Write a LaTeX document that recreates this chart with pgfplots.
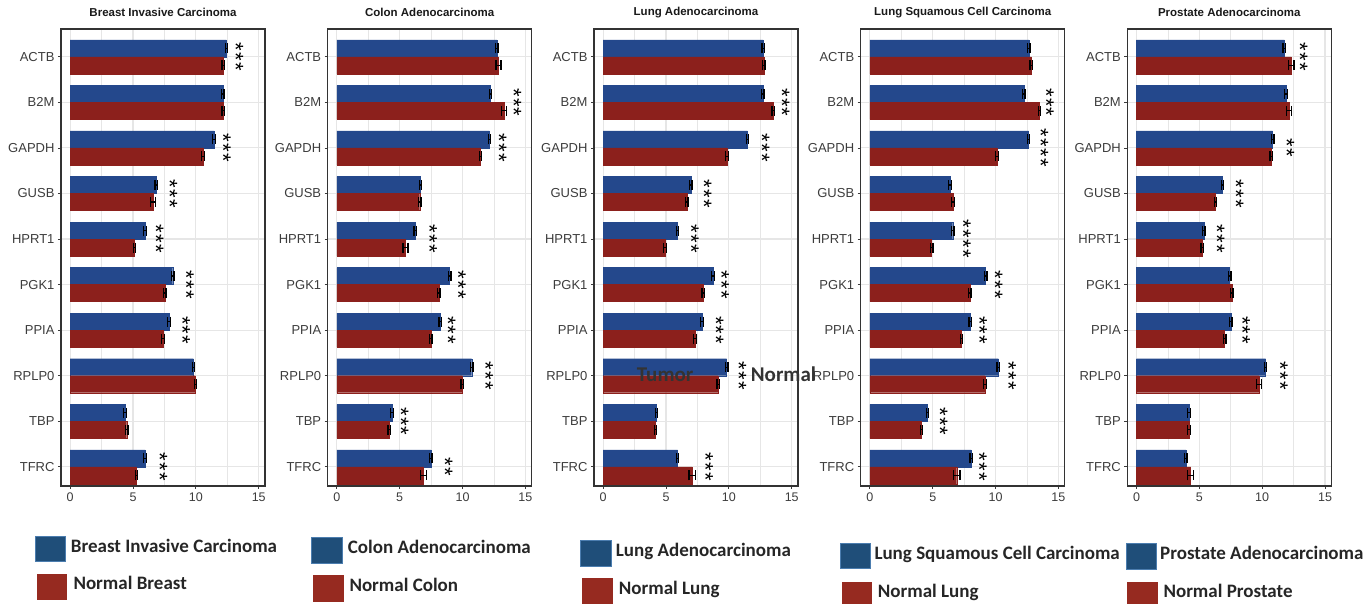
\documentclass[border=0pt]{standalone}
\usepackage{fontspec}
\setmainfont{Liberation Sans}
\newfontfamily\carlito{Carlito}
\usepackage{pgfplots}
\usepackage{pgfplotstable}
\pgfplotsset{compat=1.18}

\definecolor{tblue}{RGB}{36,72,140}
\definecolor{nred}{RGB}{140,32,28}
\definecolor{lblue}{RGB}{31,78,121}
\definecolor{lblueedge}{RGB}{75,125,175}
\definecolor{lred}{RGB}{150,42,32}
\definecolor{gridc}{RGB}{230,230,230}
\definecolor{axc}{RGB}{51,51,51}
\definecolor{tickc}{RGB}{60,60,60}

\newcommand\stwo{*\kern1.3pt*}
\newcommand\sthree{*\kern1.3pt*\kern1.3pt*}
\newcommand\sfour{*\kern1.3pt*\kern1.3pt*\kern1.3pt*}
% significance stars: one rotated line of asterisks, centred on (x, gene)
\newcommand\sig[3]{\node[sigstar] at ([xshift=-4.7pt]axis cs:#1,#2) {#3};}

% columns: y position (ACTB=9 ... TFRC=0), tumour value, error, normal value, error
\pgfplotstableread{
y tv te nv ne
9 12.43 0.1 12.17 0.1
8 12.14 0.1 12.19 0.1
7 11.45 0.1 10.57 0.1
6 6.86 0.1 6.57 0.2
5 5.96 0.1 5.12 0.1
4 8.16 0.1 7.53 0.1
3 7.87 0.1 7.39 0.1
2 9.81 0.1 9.97 0.1
1 4.37 0.1 4.50 0.1
0 5.96 0.1 5.27 0.1
}\pone
\pgfplotstableread{
y tv te nv ne
9 12.73 0.1 12.86 0.2
8 12.22 0.1 13.29 0.2
7 12.14 0.1 11.42 0.1
6 6.65 0.1 6.59 0.1
5 6.24 0.1 5.47 0.2
4 8.97 0.1 8.11 0.1
3 8.22 0.1 7.47 0.1
2 10.73 0.1 9.98 0.1
1 4.38 0.1 4.16 0.1
0 7.47 0.1 6.89 0.25
}\ptwo
\pgfplotstableread{
y tv te nv ne
9 12.73 0.1 12.78 0.1
8 12.70 0.1 13.53 0.1
7 11.48 0.1 9.85 0.1
6 6.97 0.1 6.65 0.1
5 5.92 0.1 4.91 0.1
4 8.73 0.1 7.95 0.1
3 7.87 0.1 7.31 0.1
2 9.82 0.1 9.15 0.1
1 4.24 0.1 4.16 0.1
0 5.92 0.1 7.07 0.25
}\pthree
\pgfplotstableread{
y tv te nv ne
9 12.65 0.1 12.84 0.1
8 12.25 0.1 13.50 0.1
7 12.62 0.1 10.11 0.1
6 6.38 0.1 6.62 0.1
5 6.59 0.1 4.91 0.1
4 9.21 0.1 7.95 0.1
3 7.98 0.1 7.29 0.1
2 10.22 0.1 9.15 0.1
1 4.59 0.1 4.11 0.1
0 8.06 0.1 6.91 0.25
}\pfour
\pgfplotstableread{
y tv te nv ne
9 11.76 0.1 12.32 0.2
8 11.89 0.1 12.13 0.2
7 10.83 0.1 10.73 0.1
6 6.85 0.1 6.29 0.1
5 5.36 0.1 5.23 0.1
4 7.41 0.1 7.59 0.1
3 7.51 0.1 7.01 0.1
2 10.27 0.1 9.74 0.2
1 4.17 0.1 4.17 0.1
0 3.93 0.1 4.30 0.25
}\pfive

\tikzset{
  sigstar/.style={font=\fontsize{22}{22}\selectfont, rotate=-90,
    inner sep=0pt, anchor=center, text=black},
}
\pgfplotsset{
  panel/.style={
    scale only axis, width=204pt, height=457pt,
    xmin=-0.73, xmax=15.5, ymin=-0.42, ymax=9.61,
    xtick={0,5,10,15}, minor xtick={2.5,7.5,12.5},
    ytick={0,...,9},
    yticklabels={TFRC,TBP,RPLP0,PPIA,PGK1,HPRT1,GUSB,GAPDH,B2M,ACTB},
    tick pos=left,
    xmajorgrids, xminorgrids, ymajorgrids,
    major grid style={gridc, line width=1.1pt},
    minor grid style={gridc, line width=0.6pt},
    axis line style={axc, line width=1.1pt},
    tick align=outside, major tick length=3pt, minor tick length=0pt,
    tick style={tickc, line width=0.8pt},
    yticklabel style={font=\fontsize{13}{13}\selectfont, text=tickc},
    xticklabel style={font=\fontsize{12.5}{13}\selectfont, text=tickc},
    /pgf/number format/assume math mode=true,
    title style={font=\bfseries\fontsize{11.5}{12}\selectfont, text=black!90,
      at={(0.5,1)}, anchor=center, yshift=10.7pt},
    xbar, bar width=0.373,
    clip=false,
  },
  tum/.style={draw=tblue, fill=tblue, bar shift=0.1865,
    error bars/.cd, x dir=both, x explicit, error mark=|,
    error bar style={line width=1.3pt, draw=black},
    error mark options={line width=1.3pt, draw=black, mark size=5pt}},
  nor/.style={draw=nred, fill=nred, bar shift=-0.1865,
    error bars/.cd, x dir=both, x explicit, error mark=|,
    error bar style={line width=1.3pt, draw=black},
    error mark options={line width=1.3pt, draw=black, mark size=5pt}},
}

\begin{document}
\begin{tikzpicture}
\useasboundingbox (0,0) rectangle (1366pt,604pt);

\begin{axis}[panel, at={(61pt,118pt)}, anchor=south west, title={Breast Invasive Carcinoma}]
\addplot[tum] table[x=tv, y=y, x error=te] {\pone};
\addplot[nor] table[x=nv, y=y, x error=ne] {\pone};
\sig{13.55}{9}{\sthree}
\sig{12.55}{7}{\sthree}
\sig{8.3}{6}{\sthree}
\sig{7.2}{5}{\sthree}
\sig{9.6}{4}{\sthree}
\sig{9.3}{3}{\sthree}
\sig{7.5}{0}{\sthree}
\end{axis}

\begin{axis}[panel, at={(327.7pt,118pt)}, anchor=south west, title={Colon Adenocarcinoma}]
\addplot[tum] table[x=tv, y=y, x error=te] {\ptwo};
\addplot[nor] table[x=nv, y=y, x error=ne] {\ptwo};
\sig{14.44}{8}{\sthree}
\sig{13.26}{7}{\sthree}
\sig{7.74}{5}{\sthree}
\sig{10.03}{4}{\sthree}
\sig{9.21}{3}{\sthree}
\sig{12.2}{2}{\sthree}
\sig{5.47}{1}{\sthree}
\sig{8.97}{0}{\stwo}
\end{axis}

\begin{axis}[panel, at={(594pt,118pt)}, anchor=south west, title={Lung Adenocarcinoma}]
\addplot[tum] table[x=tv, y=y, x error=te] {\pthree};
\addplot[nor] table[x=nv, y=y, x error=ne] {\pthree};
\sig{14.6}{8}{\sthree}
\sig{13.0}{7}{\sthree}
\sig{8.4}{6}{\sthree}
\sig{7.37}{5}{\sthree}
\sig{9.79}{4}{\sthree}
\sig{9.34}{3}{\sthree}
\sig{11.16}{2}{\sthree}
\sig{8.51}{0}{\sthree}
\end{axis}

\begin{axis}[panel, at={(860.7pt,118pt)}, anchor=south west, title={Lung Squamous Cell Carcinoma}]
\addplot[tum] table[x=tv, y=y, x error=te] {\pfour};
\addplot[nor] table[x=nv, y=y, x error=ne] {\pfour};
\sig{14.41}{8}{\sthree}
\sig{13.96}{7}{\sfour}
\sig{7.79}{5}{\sfour}
\sig{10.33}{4}{\sthree}
\sig{9.1}{3}{\sthree}
\sig{11.4}{2}{\sthree}
\sig{5.95}{1}{\sthree}
\sig{9.07}{0}{\sthree}
\end{axis}

\begin{axis}[panel, at={(1127.3pt,118pt)}, anchor=south west, title={Prostate Adenocarcinoma}]
\addplot[tum] table[x=tv, y=y, x error=te] {\pfive};
\addplot[nor] table[x=nv, y=y, x error=ne] {\pfive};
\sig{13.38}{9}{\sthree}
\sig{12.32}{7}{\stwo}
\sig{8.28}{6}{\sthree}
\sig{6.77}{5}{\sthree}
\sig{8.81}{3}{\sthree}
\sig{11.81}{2}{\sthree}
\end{axis}

% overlay labels
\begin{scope}[every node/.style={anchor=base west, inner sep=0pt,
    font=\carlito\bfseries\fontsize{21}{21}\selectfont, text=black!80}]
\node at (636.7pt,222.2pt) {Tumor};
\node at (750.7pt,222.2pt) {Normal};
\end{scope}

% legends
\begin{scope}[every node/.style={anchor=base west, inner sep=0pt,
    font=\carlito\bfseries\fontsize{19}{19}\selectfont, text=black!85}]
\filldraw[fill=lblue, draw=lblueedge, line width=1pt] (35pt,42.3pt) rectangle (65pt,67.3pt);
\fill[lred] (36.7pt,4pt) rectangle (67.3pt,29.7pt);
\node at (70.7pt,51.2pt) {Breast Invasive Carcinoma};
\node at (73.3pt,14.6pt) {Normal Breast};

\filldraw[fill=lblue, draw=lblueedge, line width=1pt] (311.7pt,40pt) rectangle (342.3pt,66.3pt);
\fill[lred] (313.3pt,2.3pt) rectangle (344pt,29pt);
\node at (347.7pt,50.6pt) {Colon Adenocarcinoma};
\node at (349.3pt,12.9pt) {Normal Colon};

\filldraw[fill=lblue, draw=lblueedge, line width=1pt] (580.7pt,37.3pt) rectangle (611pt,63pt);
\fill[lred] (582.3pt,0pt) rectangle (612.7pt,25.7pt);
\node at (615.7pt,47.9pt) {Lung Adenocarcinoma};
\node at (618.7pt,9.6pt) {Normal Lung};

\filldraw[fill=lblue, draw=lblueedge, line width=1pt] (840pt,35pt) rectangle (870.7pt,60.7pt);
\fill[lred] (841.7pt,0pt) rectangle (872.3pt,22.3pt);
\node at (874.3pt,44.6pt) {Lung Squamous Cell Carcinoma};
\node at (877.7pt,6.2pt) {Normal Lung};

\filldraw[fill=lblue, draw=lblueedge, line width=1pt] (1126pt,34.7pt) rectangle (1156.7pt,60pt);
\fill[lred] (1127.3pt,0pt) rectangle (1158.3pt,22.3pt);
\node at (1160pt,44.6pt) {Prostate Adenocarcinoma};
\node at (1163.3pt,6.2pt) {Normal Prostate};
\end{scope}
\end{tikzpicture}
\end{document}
